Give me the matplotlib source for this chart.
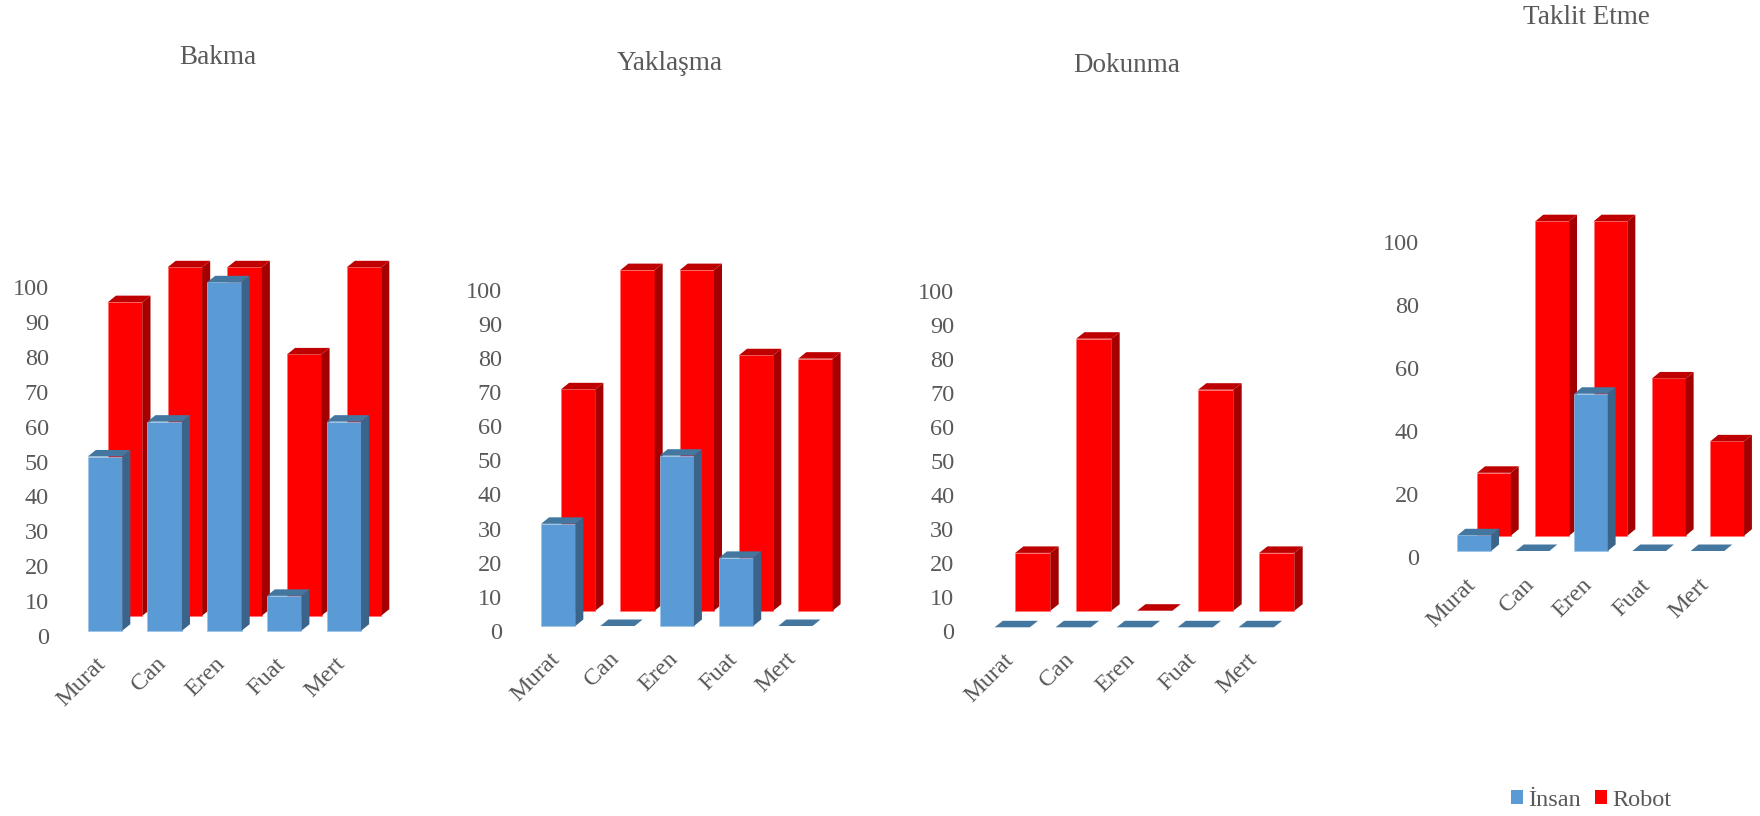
"""Human vs robot response percentages per child, one pseudo-3D bar panel per behaviour."""
import matplotlib
matplotlib.use("Agg")
import matplotlib.pyplot as plt
from matplotlib.patches import Patch, Polygon, Rectangle

plt.rcParams["font.family"] = ["Liberation Serif", "DejaVu Sans"]

W, H = 1760, 816
TEXT = "#595959"

children = ["Murat", "Can", "Eren", "Fuat", "Mert"]
titles = ["Bakma", "Yaklaşma", "Dokunma", "Taklit Etme"]

insan = [
    [50, 60, 100, 10, 60],
    [30, 0, 50, 20, 0],
    [0, 0, 0, 0, 0],
    [5, 0, 50, 0, 0],
]
robot = [
    [90, 100, 100, 75, 100],
    [65, 100, 100, 75, 74],
    [17, 80, 0, 65, 17],
    [20, 100, 100, 50, 30],
]
yticks = [range(0, 101, 10), range(0, 101, 10), range(0, 101, 10), range(0, 101, 20)]

# panel layout in pixels
axis_x = [49.0, 502.0, 954.3, 1419.0]
first_x = [105.0, 558.2, 1012.2, 1474.3]
step_x = [59.7, 59.3, 61.0, 58.3]
zero_y = [635.7, 630.7, 631.3, 556.7]
unit_y = [3.484, 3.406, 3.40, 3.145]
front_lift = [5.0, 4.7, 4.0, 5.7]
back_lift = [20.0, 20.0, 20.6, 21.0]
title_x = [218, 670, 1127, 1586]
title_y = [58, 64, 65, 18]

BAR_W = 0.578
BACK_SHIFT = 0.338
DEPTH_X = 0.135
DEPTH_PX = 6.5
LABEL_SHIFT = 0.035

blue = ("#5B9BD5", "#3A6489", "#44779F", "#9DC3E6")
red = ("#FF0000", "#A50000", "#BF0000", "#FF7070")


def draw_bar(ax, x, value, base, dy, colors):
    front, side, top, edge = colors
    w = BAR_W
    dx = DEPTH_X
    h = base + value
    if value > 0:
        ax.add_patch(Rectangle((x, base), w, value, facecolor=front, edgecolor=edge,
                               linewidth=0.5, clip_on=False))
    ax.add_patch(Polygon([(x + w, base), (x + w + dx, base + dy), (x + w + dx, h + dy), (x + w, h)],
                         facecolor=side, edgecolor="none", clip_on=False))
    ax.add_patch(Polygon([(x, h), (x + w, h), (x + w + dx, h + dy), (x + dx, h + dy)],
                         facecolor=top, edgecolor="none", clip_on=False))


fig = plt.figure(figsize=(W / 100, H / 100), dpi=100, facecolor="white")

for p in range(4):
    left = axis_x[p]
    right = first_x[p] + 5 * step_x[p]
    bottom = zero_y[p] + 12
    top = zero_y[p] - 120 * unit_y[p]
    ax = fig.add_axes([left / W, 1 - bottom / H, (right - left) / W, (bottom - top) / H])
    ax.patch.set_visible(False)
    ax.set_xlim((left - first_x[p]) / step_x[p], 5)
    ax.set_ylim(-12 / unit_y[p], 120)
    for s in ax.spines.values():
        s.set_visible(False)

    dy = DEPTH_PX / unit_y[p]
    for i, v in enumerate(robot[p]):
        draw_bar(ax, i - BAR_W / 2 + BACK_SHIFT, v, back_lift[p] / unit_y[p], dy, red)
    for i, v in enumerate(insan[p]):
        draw_bar(ax, i - BAR_W / 2, v, front_lift[p] / unit_y[p], dy, blue)

    ax.set_yticks(list(yticks[p]))
    ax.tick_params(axis="y", length=0, labelsize=17.5, labelcolor=TEXT, pad=0)
    ax.set_xticks([i - LABEL_SHIFT for i in range(5)])
    ax.set_xticklabels(children, rotation=45, ha="right", va="center", rotation_mode="anchor")
    ax.tick_params(axis="x", length=0, labelsize=17.5, labelcolor=TEXT, pad=9.5)

    fig.text(title_x[p] / W, 1 - title_y[p] / H, titles[p], ha="center", va="center",
             fontsize=19.5, color=TEXT)

handles = [Patch(facecolor=blue[0], label="İnsan"), Patch(facecolor=red[0], label="Robot")]
fig.legend(handles=handles, loc="center", bbox_to_anchor=(1591 / W, 1 - 800 / H), ncols=2,
           frameon=False, fontsize=17.5, labelcolor=TEXT, handlelength=0.5, handleheight=0.5,
           handletextpad=0.2, columnspacing=0.6, borderpad=0, borderaxespad=0)

fig.savefig("out.png", dpi=100)
